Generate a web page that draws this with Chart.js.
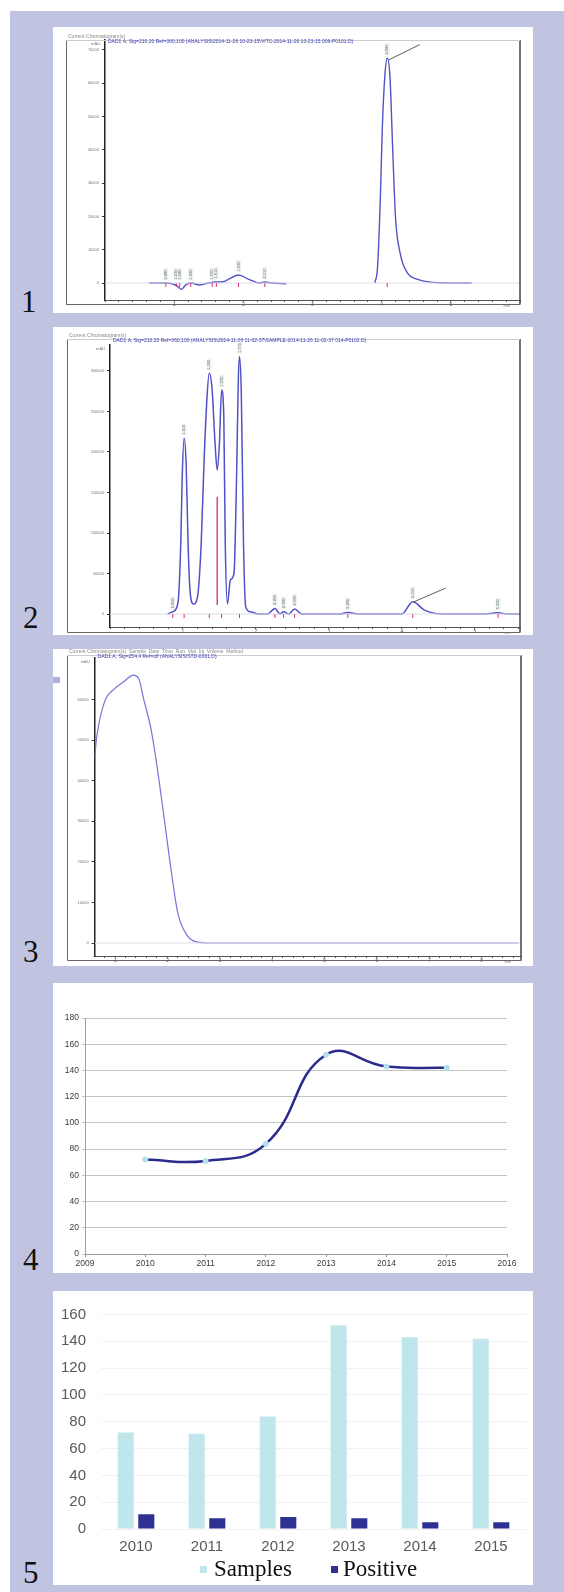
<!DOCTYPE html>
<html>
<head>
<meta charset="utf-8">
<script src="https://cdn.jsdelivr.net/npm/chart.js@4.4.0/dist/chart.umd.min.js"></script>
<style>
body { margin: 0; width: 564px; height: 1592px; background: #fff; position: relative; overflow: hidden; font-family: Arial, "Liberation Sans", sans-serif; }
#bg { position: absolute; left: 10px; top: 11px; width: 554px; height: 1581px; background: #c1c4e1; }
.panel { position: absolute; left: 53px; width: 480px; background: #fff; }
.panel canvas { position: absolute; left: 0; top: 0; }
.num { position: absolute; font-family: "Liberation Serif", "Times New Roman", serif; font-size: 31px; line-height: 31px; color: #111; }
.lg { position: absolute; font-family: "Liberation Serif", "Times New Roman", serif; font-size: 23px; line-height: 23px; color: #111; }
.sw { position: absolute; width: 7px; height: 7px; }
</style>
</head>
<body>
<div id="bg"></div>

<div class="panel" style="top:27px;height:286px"><canvas id="chrom1" width="480" height="286"></canvas></div>
<div class="panel" style="top:327px;height:308px"><canvas id="chrom2" width="480" height="308"></canvas></div>
<div class="panel" style="top:649px;height:317px"><canvas id="chrom3" width="480" height="317"></canvas></div>
<div class="panel" style="top:983px;height:290px"><canvas id="trendChart" width="480" height="290"></canvas></div>
<div class="panel" style="top:1291px;height:294px"><canvas id="barChart" width="480" height="294"></canvas></div>
<div style="position:absolute;left:53px;top:677px;width:7px;height:6px;background:#a9b1dc"></div>

<div class="num" style="left:21px;top:286px">1</div>
<div class="num" style="left:23px;top:602px">2</div>
<div class="num" style="left:23px;top:936px">3</div>
<div class="num" style="left:23px;top:1244px">4</div>
<div class="num" style="left:23px;top:1557px">5</div>

<div class="sw" style="left:200px;top:1566px;background:#bfe6ea"></div>
<div class="lg" style="left:214px;top:1557px">Samples</div>
<div class="sw" style="left:331px;top:1566px;background:#2e3192"></div>
<div class="lg" style="left:343px;top:1557px">Positive</div>

<script>
console.log("working");

// chromatogram 1 (time in min, signal)
var c1Time = [0.64, 0.88, 1.03, 1.11, 1.16, 1.24, 1.37, 1.50, 1.61, 1.71, 1.81, 1.93, 2.08, 2.23, 2.31, 2.40, 2.62, 3.20, 3.90, 3.94, 3.98, 4.01, 4.045, 4.08, 4.12, 4.16, 4.20, 4.27, 4.37, 4.52, 4.84, 5.30];
var c1Signal = [0, 0, -700, -1900, -700, 0, -600, 0, 300, 400, 1400, 2400, 1100, 0, 300, 0, -200, null, 0, 4600, 24800, 46900, 62000, 67600, 62000, 39900, 19700, 8700, 3100, 1100, 100, 0];
var c1Peaks = [0.88, 1.03, 1.08, 1.24, 1.55, 1.61, 1.93, 2.31, 4.08];
var c1YTicks = [0, 10000, 20000, 30000, 40000, 50000, 60000, 70000];
var c1XTicks = [1, 2, 3, 4, 5];

// chromatogram 2
var c2Time = [0.79, 0.86, 0.93, 0.97, 0.99, 1.016, 1.045, 1.07, 1.10, 1.145, 1.20, 1.25, 1.29, 1.33, 1.36, 1.40, 1.44, 1.47, 1.50, 1.53, 1.56, 1.58, 1.61, 1.65, 1.70, 1.735, 1.76, 1.775, 1.80, 1.83, 1.86, 1.92, 2.04, 2.16, 2.26, 2.33, 2.38, 2.45, 2.53, 2.63, 2.80, 3.15, 3.26, 3.40, 3.60, 4.00, 4.15, 4.31, 4.58, 5.10, 5.32, 5.45, 5.62];
var c2Signal = [0, 2900, 13000, 87000, 170000, 217000, 182000, 87000, 25500, 12300, 21400, 87000, 190000, 268000, 297000, 276500, 210700, 177800, 210700, 276500, 243600, 87000, 12300, 42000, 50200, 170000, 293000, 317700, 272000, 87000, 9000, 2900, 0, 0, 6900, 0, 2900, 0, 6200, 0, 0, 0, 2000, 0, 0, 0, 15200, 4900, 0, 0, 1600, 0, 0];
var c2Peaks = [0.86, 1.016, 1.36, 1.53, 1.775, 2.26, 2.38, 2.53, 3.26, 4.15, 5.32];
var c2DropTime = [1.47, 1.47];
var c2DropSignal = [11000, 144800];
var c2YTicks = [0, 50000, 100000, 150000, 200000, 250000, 300000];
var c2XTicks = [1, 2, 3, 4, 5];

// chromatogram 3
var c3Time = [0.61, 0.66, 0.80, 1.00, 1.17, 1.35, 1.45, 1.55, 1.69, 1.83, 1.96, 2.07, 2.20, 2.37, 2.55, 2.92, 8.70];
var c3Signal = [45900, 51600, 59400, 62700, 64400, 66000, 65200, 59900, 52500, 41000, 28600, 18000, 7300, 2000, 300, 0, 0];
var c3YTicks = [0, 10000, 20000, 30000, 40000, 50000, 60000];
var c3XTicks = [1, 2, 3, 4, 5, 6, 7, 8];

// samples per year
var years = [2010, 2011, 2012, 2013, 2014, 2015];
var samples = [72, 71, 84, 152, 143, 142];
var positive = [11, 8, 9, 8, 5, 5];
var trendYTicks = [0, 20, 40, 60, 80, 100, 120, 140, 160, 180];
var barYTicks = [0, 20, 40, 60, 80, 100, 120, 140, 160];

function pts(xs, ys) {
    return xs.map(function (x, i) { return { x: x, y: ys[i] }; });
}

var chromDecor = {
    id: 'chromDecor',
    afterDraw: function (chart, args, o) {
        var ctx = chart.ctx, xs = chart.scales.x, ys = chart.scales.y;
        var f = o.frame;
        ctx.save();
        ctx.strokeStyle = '#666';
        ctx.lineWidth = 1;
        ctx.beginPath();
        ctx.moveTo(f[0] + 0.5, f[1]);
        ctx.lineTo(f[0] + 0.5, f[3] + 0.5);
        ctx.lineTo(f[2] + 0.5, f[3] + 0.5);
        ctx.stroke();
        ctx.strokeStyle = '#444';
        ctx.lineWidth = 1.5;
        ctx.beginPath();
        ctx.moveTo(f[2], f[1]);
        ctx.lineTo(f[2], f[3]);
        ctx.stroke();
        ctx.strokeStyle = '#ccc';
        ctx.lineWidth = 1;
        ctx.beginPath();
        ctx.moveTo(f[0], f[1] + 0.5);
        ctx.lineTo(f[2], f[1] + 0.5);
        ctx.stroke();

        ctx.font = '5px Arial';
        ctx.textBaseline = 'middle';
        ctx.fillStyle = '#888';
        ctx.fillText(o.header, f[0] + 2, f[1] - 3);
        ctx.fillStyle = '#3a3ab4';
        ctx.fillText(o.title, chart.chartArea.left + 3, f[1] + 2);
        ctx.fillStyle = '#777';
        ctx.font = '4px Arial';
        ctx.textAlign = 'right';
        ctx.fillText('mAU', chart.chartArea.left - 5, chart.chartArea.top + 4);
        ctx.fillText('min', chart.chartArea.right - 10, chart.chartArea.bottom + 6);

        // retention time labels
        ctx.font = '4px Arial';
        (o.peaks || []).forEach(function (t) {
            var best = 0, bd = 1e9;
            o.time.forEach(function (x, i) {
                if (o.signal[i] !== null && Math.abs(x - t) < bd) { bd = Math.abs(x - t); best = o.signal[i]; }
            });
            var px = xs.getPixelForValue(t), py = ys.getPixelForValue(Math.max(best, 0)) - 3;
            ctx.save();
            ctx.translate(px, py);
            ctx.rotate(-Math.PI / 2);
            ctx.fillStyle = '#eef3ee';
            ctx.fillRect(0, -2.5, 12, 5);
            ctx.fillStyle = '#607068';
            ctx.textAlign = 'left';
            ctx.fillText(t.toFixed(3), 0.5, 0);
            ctx.restore();
            ctx.fillStyle = '#e0307a';
            ctx.fillRect(px - 0.5, ys.getPixelForValue(0), 1, 4);
        });

        if (o.arrow) {
            var a = o.arrow;
            ctx.strokeStyle = '#333';
            ctx.lineWidth = 0.8;
            ctx.beginPath();
            ctx.moveTo(xs.getPixelForValue(a[0]), ys.getPixelForValue(a[1]));
            ctx.lineTo(xs.getPixelForValue(a[2]), ys.getPixelForValue(a[3]));
            ctx.stroke();
        }
        ctx.restore();
    }
};

function chromChart(id, c) {
    var sets = [{
        data: pts([c.xMin, c.xMax], [0, 0]),
        borderColor: '#dcdce8', borderWidth: 1, pointRadius: 0
    }, {
        data: pts(c.time, c.signal),
        borderColor: c.color, borderWidth: c.width, pointRadius: 0,
        cubicInterpolationMode: 'monotone', spanGaps: false
    }];
    if (c.dropTime) {
        sets.push({ data: pts(c.dropTime, c.dropSignal), borderColor: '#e8407e', borderWidth: 1.5, pointRadius: 0 });
    }
    return new Chart(document.getElementById(id).getContext('2d'), {
        type: 'line',
        data: { datasets: sets },
        plugins: [chromDecor],
        options: {
            responsive: false, animation: false, devicePixelRatio: 1,
            layout: { padding: c.padding },
            plugins: {
                legend: { display: false }, tooltip: { enabled: false },
                chromDecor: { frame: c.frame, header: c.header, title: c.title, peaks: c.peaks, time: c.time, signal: c.signal, arrow: c.arrow }
            },
            scales: {
                x: {
                    type: 'linear', min: c.xMin, max: c.xMax,
                    afterBuildTicks: function (s) {
                        var t = [];
                        for (var v = Math.ceil(c.xMin * 5) / 5; v <= c.xMax + 1e-9; v += 0.2) t.push({ value: Math.round(v * 10) / 10 });
                        s.ticks = t;
                    },
                    afterFit: function (s) { s.height = c.xAxisH; },
                    ticks: {
                        autoSkip: false, maxRotation: 0, padding: 0, font: { size: 5 }, color: '#555',
                        callback: function (v) { return c.xTicks.indexOf(v) >= 0 ? String(v) : ''; }
                    },
                    grid: { drawOnChartArea: false, tickLength: 2, color: '#555' },
                    border: { color: '#555', width: 1 }
                },
                y: {
                    min: c.yMin, max: c.yMax,
                    afterBuildTicks: function (s) { s.ticks = c.yTicks.map(function (v) { return { value: v }; }); },
                    afterFit: function (s) { s.width = c.yAxisW; },
                    ticks: { font: { size: 4 }, color: '#777', padding: 3, callback: function (v) { return String(v); } },
                    grid: { drawOnChartArea: false, tickLength: 3, color: '#333' },
                    border: { color: '#222', width: 1.5 }
                }
            }
        }
    });
}

chromChart('chrom1', {
    time: c1Time, signal: c1Signal, peaks: c1Peaks, yTicks: c1YTicks, xTicks: c1XTicks,
    xMin: 0, xMax: 6.0, yMin: -5100, yMax: 73000,
    color: '#5252c8', width: 1.4,
    padding: { left: 0, right: 13, top: 13, bottom: 0 }, yAxisW: 52, xAxisH: 13,
    frame: [13, 13, 467, 277],
    header: 'Current Chromatogram(s)',
    title: 'DAD1 A, Sig=210,20 Ref=360,100 (ANALYSIS\\2014-11-26 10-23-15\\VITC-2014-11-26 10-23-15 006-P0101.D)',
    arrow: [4.1, 67000, 4.55, 71600]
});

chromChart('chrom2', {
    time: c2Time, signal: c2Signal, peaks: c2Peaks, yTicks: c2YTicks, xTicks: c2XTicks,
    dropTime: c2DropTime, dropSignal: c2DropSignal,
    xMin: 0, xMax: 5.62, yMin: -16000, yMax: 332000,
    color: '#5050c8', width: 1.5,
    padding: { left: 0, right: 13, top: 18, bottom: 0 }, yAxisW: 57, xAxisH: 8,
    frame: [14, 12, 467, 305],
    header: 'Current Chromatogram(s)',
    title: 'DAD1 A, Sig=210,20 Ref=360,100 (ANALYSIS\\2014-11-26 11-02-37\\SAMPLE-2014-11-26 11-02-37 014-P0102.D)',
    arrow: [4.17, 15200, 4.6, 32000]
});

chromChart('chrom3', {
    time: c3Time, signal: c3Signal, peaks: [], yTicks: c3YTicks, xTicks: c3XTicks,
    xMin: 0.61, xMax: 8.75, yMin: -3200, yMax: 70200,
    color: '#7474d4', width: 1.2,
    padding: { left: 0, right: 12, top: 9, bottom: 0 }, yAxisW: 41.6, xAxisH: 10,
    frame: [14, 6, 468, 311],
    header: 'Current Chromatogram(s)  Sample  Date  Time  Run  Vial  Inj  Volume  Method',
    title: 'DAD1 A, Sig=254,4 Ref=off (ANALYSIS\\STD-0001.D)'
});

// line chart: samples per year
var trendCtx = document.getElementById('trendChart').getContext('2d');
var trendChart = new Chart(trendCtx, {
    type: 'line',
    data: {
        datasets: [{
            data: pts(years, samples),
            borderColor: '#2b2b8e', borderWidth: 2.5, tension: 0.45,
            pointRadius: 3, pointBackgroundColor: '#b4e2ec', pointBorderWidth: 0
        }]
    },
    options: {
        responsive: false, animation: false, devicePixelRatio: 1,
        layout: { padding: { left: 0, right: 26, top: 35, bottom: 0 } },
        plugins: { legend: { display: false }, tooltip: { enabled: false } },
        scales: {
            x: {
                type: 'linear', min: 2009, max: 2016,
                afterFit: function (s) { s.height = 19; },
                ticks: { stepSize: 1, font: { size: 8.5 }, color: '#3a3a3a', padding: 2, callback: function (v) { return String(v); } },
                grid: { drawOnChartArea: false, tickLength: 3, color: '#999' },
                border: { color: '#999' }
            },
            y: {
                min: 0, max: 180,
                afterBuildTicks: function (s) { s.ticks = trendYTicks.map(function (v) { return { value: v }; }); },
                afterFit: function (s) { s.width = 32; },
                ticks: { font: { size: 8.5 }, color: '#3a3a3a', padding: 3 },
                grid: { color: '#c4c4c4', tickLength: 3 },
                border: { color: '#a0a0a0' }
            }
        }
    }
});

// bar chart: samples and positives
var barCtx = document.getElementById('barChart').getContext('2d');
var barChart = new Chart(barCtx, {
    type: 'bar',
    data: {
        labels: years.map(String),
        datasets: [{
            label: 'Samples', data: samples, backgroundColor: '#bfe6ea',
            categoryPercentage: 0.58, barPercentage: 0.78
        }, {
            label: 'Positive', data: positive, backgroundColor: '#2e3192',
            categoryPercentage: 0.58, barPercentage: 0.78
        }]
    },
    options: {
        responsive: false, animation: false, devicePixelRatio: 1,
        layout: { padding: { left: 0, right: 6.5, top: 15, bottom: 0 } },
        plugins: { legend: { display: false }, tooltip: { enabled: false } },
        scales: {
            x: {
                afterFit: function (s) { s.height = 56; },
                ticks: { font: { size: 15 }, color: '#595959', padding: 9 },
                grid: { display: false, drawTicks: false },
                border: { display: false }
            },
            y: {
                min: 0, max: 160,
                afterBuildTicks: function (s) { s.ticks = barYTicks.map(function (v) { return { value: v }; }); },
                afterFit: function (s) { s.width = 47.5; },
                ticks: { font: { size: 15 }, color: '#595959', padding: 14.5 },
                grid: { color: '#f1f1f1', drawTicks: false },
                border: { display: false }
            }
        }
    }
});
</script>
</body>
</html>
